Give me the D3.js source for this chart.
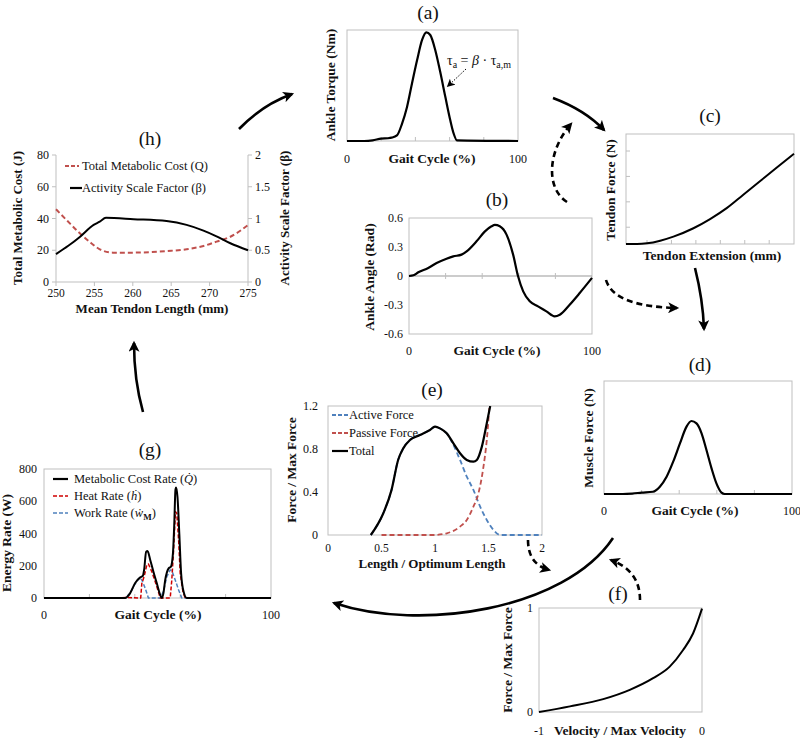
<!DOCTYPE html>
<html><head><meta charset="utf-8">
<script src="https://cdn.jsdelivr.net/npm/d3@7"></script>
<style>
body{margin:0;background:#fff}
svg text{font-family:"Liberation Serif","Times New Roman",serif;fill:#111}
</style>
</head><body>
<svg id="c" width="800" height="739"></svg>
<script>
// ---------------- DATA ----------------
// (a) ankle torque, normalised
const aGait   = [0,10,15,20,24,26.1,29.2,32.2,35.1,38,41,43.9,46.4,48.7,51.6,54.5,57.5,60.4,62.4,64.3,100];
const aTorque = [0,0,0.006,0.022,0.025,0.03,0.05,0.157,0.307,0.518,0.729,0.91,0.979,0.955,0.82,0.623,0.398,0.187,0.066,0.006,0];
// (b) ankle angle
const bGait  = [0,2.4,5.1,10.5,15.1,20.5,24.2,28.7,31.5,36.9,41.5,45.1,46.9,49.6,53.3,56.9,59.6,62.4,66,70.5,75.1,79.6,82.4,87.8,93.3,100];
const bAngle = [0,0.007,0.038,0.083,0.134,0.179,0.203,0.221,0.255,0.359,0.462,0.514,0.528,0.514,0.428,0.221,-0.003,-0.159,-0.262,-0.314,-0.366,-0.417,-0.4,-0.297,-0.176,-0.02];
const bYTicks = [-0.6,-0.3,0,0.3,0.6];
// (c) tendon force vs extension (arbitrary units)
const cExt   = [0,0.45,0.86,1.4,1.94,2.76,3.44,4.12,4.8,5.48,6.16,6.875];
const cForce = [0,0,0.026,0.13,0.29,0.62,0.98,1.41,1.94,2.47,3.0,3.55];
const cXTicks = [0.86,1.86,2.86,3.86,4.86,5.86];
const cYTicks = [0.66,1.66,2.66,3.66];
// (d) muscle force
const dGait  = [0,10,15,20,26,29.7,33.3,36.8,40.4,43.9,46.5,49.2,51.9,54.5,57.2,59.8,62.5,64.2,100];
const dForce = [0,0,0.004,0.012,0.02,0.065,0.153,0.286,0.448,0.596,0.646,0.625,0.537,0.389,0.227,0.094,0.012,0,0];
const gaitTicks = [20,40,60,80];
// (e) force-length
const eLenTotal = [0.4,0.516,0.594,0.656,0.703,0.766,0.859,0.953,1.0,1.047,1.109,1.172,1.234,1.297,1.359,1.391,1.438,1.484,1.516];
const eTotal    = [0,0.2,0.42,0.7,0.806,0.884,0.93,0.977,1.008,0.992,0.946,0.853,0.76,0.698,0.682,0.698,0.822,1.04,1.2];
const eLenActive = [0.4,0.516,0.594,0.656,0.703,0.766,0.859,0.953,1.0,1.047,1.109,1.172,1.234,1.297,1.359,1.422,1.484,1.547,1.609,2.0];
const eActive    = [0,0.2,0.42,0.7,0.806,0.884,0.93,0.977,1.008,0.99,0.946,0.837,0.698,0.543,0.419,0.264,0.14,0.047,0,0];
const eLenPassive = [0.5,0.98,1.11,1.234,1.297,1.359,1.406,1.453,1.484,1.509];
const ePassive    = [0,0,0.016,0.078,0.14,0.264,0.388,0.636,0.884,1.2];
const eXTicks = [0,0.5,1,1.5,2];
const eYTicks = [0,0.4,0.8,1.2];
// (f) force-velocity
const fVel   = [-1,-0.81,-0.606,-0.443,-0.3,-0.198,-0.116,-0.055,0];
const fForce = [0,0.054,0.124,0.213,0.325,0.436,0.596,0.755,0.994];
// (g) energy rates
const gMetX = [0,35.7,37.9,40.1,42.4,43.5,44.1,45,45.6,46.8,48.2,49.7,51.2,51.9,52.6,53.4,54.9,55.9,56.8,57.4,57.9,58.2,58.8,59.6,60.4,61.5,62.9,100];
const gMet  = [0,0,29,91,128,136,174,287,291,236,163,91,19,0,29,112,184,194,277,463,670,686,628,401,153,39,0,0];
const gHeatX = [0,30,37,42.6,43.1,44.1,45.3,46,47.5,49,50.4,51.2,55.6,56.3,57.1,57.9,58.5,59.3,60,61.2,62.2,100];
const gHeat  = [0,0,3,0,91,132,205,211,163,101,39,0,0,112,298,535,525,360,153,39,0,0];
const gWorkX = [0,35.7,37.9,40.1,42.1,43.1,44.6,46,51.2,52.6,54.1,55.6,56.3,57.8,59.3,60.7,100];
const gWork  = [0,0,29,87,126,112,60,0,0,39,132,174,170,112,50,0,0];
const gYTicks = [0,200,400,600,800];
// (h) metabolic cost & activity scale factor
const hLenQ  = [250,251.5,253.1,254.6,255.7,257.4,260,264.4,267,269.2,270.9,272.7,275];
const hCost  = [45.8,38.4,30.7,24.4,20.6,18.5,18.5,19.5,20.6,22.7,25.4,28.5,35.9];
const hLenB  = [250,251.6,253.1,254.9,255.7,256.5,260.1,264.4,267,269.2,270.9,272.7,275];
const hBeta  = [0.44,0.57,0.71,0.9,0.95,1.01,0.99,0.96,0.9,0.81,0.72,0.61,0.5];
const hXTicks = [250,255,260,265,270,275];
const hYLTicks = [0,20,40,60,80];
const hYRTicks = [0,0.5,1,1.5,2];

// ---------------- DRAWING ----------------
const svg = d3.select('#c');
const FRAME = '#bfbfbf';
const AX = 13.5, TK = 12;
const defs = svg.append('defs');
function marker(id, w, h){
  defs.append('marker').attr('id',id).attr('viewBox','0 0 10 10').attr('refX',8).attr('refY',5)
    .attr('markerWidth',w).attr('markerHeight',h).attr('markerUnits','userSpaceOnUse').attr('orient','auto')
    .append('path').attr('d','M0,0 L10,5 L0,10 L2.5,5 Z').attr('fill','#000');
}
marker('arr',12,11); marker('arrs',8,8);

function text(x,y,s,o={}){
  const t = svg.append('text').attr('x',x).attr('y',y).text(s)
    .attr('font-size',o.size||TK).attr('text-anchor',o.anchor||'middle')
    .attr('font-weight',o.bold?'bold':'normal');
  if(o.rot) t.attr('transform',`rotate(-90,${x},${y})`);
  if(o.dy) t.attr('dy',o.dy);
  return t;
}
function frame(xs,ys){
  svg.append('rect').attr('x',xs.range()[0]).attr('y',ys.range()[1])
    .attr('width',xs.range()[1]-xs.range()[0]).attr('height',ys.range()[0]-ys.range()[1])
    .attr('fill','none').attr('stroke',FRAME).attr('stroke-width',1);
}
function xLabels(xs,vals,y,fmt=String,size=TK){
  vals.forEach(v=>text(xs(v),y,fmt(v),{size}));
}
function yLabels(ys,vals,x,fmt=String,size=TK,anchor='end'){
  vals.forEach(v=>text(x,ys(v),fmt(v),{size,anchor,dy:'0.35em'}));
}
function xTicks(xs,vals,y,len){
  svg.append('g').selectAll('line').data(vals).join('line')
    .attr('x1',d=>xs(d)).attr('x2',d=>xs(d)).attr('y1',y).attr('y2',y+len)
    .attr('stroke',FRAME);
}
function yTicks(ys,vals,x,len){
  svg.append('g').selectAll('line').data(vals).join('line')
    .attr('y1',d=>ys(d)).attr('y2',d=>ys(d)).attr('x1',x).attr('x2',x+len)
    .attr('stroke',FRAME);
}
function curve(xs,ys,X,Y,o={}){
  const line = d3.line().x((d,i)=>xs(X[i])).y((d,i)=>ys(Y[i])).curve(o.curve||d3.curveMonotoneX);
  const p = svg.append('path').attr('d',line(Y)).attr('fill','none')
    .attr('stroke',o.color||'#000').attr('stroke-width',o.w||2).attr('stroke-linejoin','round');
  if(o.dash) p.attr('stroke-dasharray',o.dash);
  if(o.clip) p.attr('clip-path',`url(#${o.clip})`);
  return p;
}
function title(x,y,s){ text(x,y,s,{size:19.5}); }

// ---- (a) ----
{
  const xs = d3.scaleLinear([0,100],[347,518]);
  const ys = d3.scaleLinear([0,1],[141,30]);
  frame(xs,ys);
  xTicks(xs,gaitTicks,141,-4);
  curve(xs,ys,aGait,aTorque,{w:2.2});
  title(428,19,'(a)');
  text(335,85,'Ankle Torque (Nm)',{size:AX,bold:true,rot:true});
  xLabels(xs,[0,100],163);
  text(432,163,'Gait Cycle (%)',{size:AX,bold:true});
  const t = svg.append('text').attr('x',447).attr('y',65).attr('font-size',14).attr('text-anchor','start');
  t.append('tspan').text('τ');
  t.append('tspan').text('a').attr('font-size',10).attr('dy',3);
  t.append('tspan').text(' = ').attr('dy',-3);
  t.append('tspan').text('β').attr('font-style','italic');
  t.append('tspan').text(' · τ');
  t.append('tspan').text('a,m').attr('font-size',10).attr('dy',3);
  svg.append('path').attr('d','M466,69 L448,86').attr('stroke','#000').attr('stroke-width',1)
    .attr('stroke-dasharray','1.5,1.5').attr('marker-end','url(#arrs)');
}
// ---- (b) ----
{
  const xs = d3.scaleLinear([0,100],[409,592]);
  const ys = d3.scaleLinear([-0.6,0.6],[334,218]);
  frame(xs,ys);
  svg.append('line').attr('x1',xs(0)).attr('x2',xs(100)).attr('y1',ys(0)).attr('y2',ys(0)).attr('stroke','#999');
  xTicks(xs,gaitTicks,ys(0)-3,6);
  curve(xs,ys,bGait,bAngle,{w:2.2});
  title(497,206,'(b)');
  yLabels(ys,bYTicks,403);
  text(374,277,'Ankle Angle (Rad)',{size:AX,bold:true,rot:true});
  xLabels(xs,[0,100],355);
  text(497,355,'Gait Cycle (%)',{size:AX,bold:true});
}
// ---- (c) ----
{
  const xs = d3.scaleLinear([0,6.875],[626,794]);
  const ys = d3.scaleLinear([0,4.33],[244,134]);
  frame(xs,ys);
  xTicks(xs,cXTicks,244,-4);
  yTicks(ys,cYTicks,626,4);
  curve(xs,ys,cExt,cForce,{w:2});
  title(710,122,'(c)');
  text(615,190,'Tendon Force (N)',{size:AX,bold:true,rot:true});
  text(712,260,'Tendon Extension (mm)',{size:AX,bold:true});
}
// ---- (d) ----
{
  const xs = d3.scaleLinear([0,100],[604,792]);
  const ys = d3.scaleLinear([0,1],[494,381]);
  frame(xs,ys);
  xTicks(xs,gaitTicks,494,-4);
  curve(xs,ys,dGait,dForce,{w:2.2});
  title(700,371,'(d)');
  text(593,438,'Muscle Force (N)',{size:AX,bold:true,rot:true});
  xLabels(xs,[0,100],515);
  text(695,515,'Gait Cycle (%)',{size:AX,bold:true});
}
// ---- (e) ----
{
  const xs = d3.scaleLinear([0,2],[328,542]);
  const ys = d3.scaleLinear([0,1.2],[535,406]);
  frame(xs,ys);
  defs.append('clipPath').attr('id','ce').append('rect').attr('x',320).attr('y',406).attr('width',230).attr('height',140);
  curve(xs,ys,eLenActive,eActive,{color:'#4f81bd',dash:'5,3',w:1.8,clip:'ce'});
  curve(xs,ys,eLenPassive,ePassive,{color:'#c0504d',dash:'5,3',w:1.8,clip:'ce'});
  curve(xs,ys,eLenTotal,eTotal,{w:2.2,clip:'ce'});
  title(432,396,'(e)');
  yLabels(ys,eYTicks,318);
  xLabels(xs,eXTicks,552,String,11.5);
  text(296,470,'Force / Max Force',{size:AX,bold:true,rot:true});
  text(432,568,'Length / Optimum Length',{size:13,bold:true});
  const leg = [['Active Force','#4f81bd','5,3'],['Passive Force','#c0504d','5,3'],['Total','#000',null]];
  leg.forEach((l,i)=>{
    const y = 415+i*18;
    const ln = svg.append('line').attr('x1',332).attr('x2',348).attr('y1',y).attr('y2',y).attr('stroke',l[1]).attr('stroke-width',l[2]?1.8:2.2);
    if(l[2]) ln.attr('stroke-dasharray','4,2');
    text(349,y+4,l[0],{size:12.5,anchor:'start'});
  });
}
// ---- (f) ----
{
  const xs = d3.scaleLinear([-1,0],[539,702]);
  const ys = d3.scaleLinear([0,1],[712,608]);
  frame(xs,ys);
  curve(xs,ys,fVel,fForce,{w:2});
  title(618,600,'(f)');
  yLabels(ys,[0,1],533);
  xLabels(xs,[-1,0],735);
  text(512,660,'Force / Max Force',{size:AX,bold:true,rot:true});
  text(620,735,'Velocity / Max Velocity',{size:AX,bold:true});
}
// ---- (g) ----
{
  const xs = d3.scaleLinear([0,100],[44,271]);
  const ys = d3.scaleLinear([0,800],[598,469]);
  frame(xs,ys);
  xTicks(xs,gaitTicks,598,-4);
  curve(xs,ys,gWorkX,gWork,{color:'#4f81bd',dash:'4,2',w:1.5,curve:d3.curveLinear});
  curve(xs,ys,gHeatX,gHeat,{color:'#d00000',dash:'4,2',w:1.5,curve:d3.curveLinear});
  curve(xs,ys,gMetX,gMet,{w:2,curve:d3.curveMonotoneX});
  title(150,456,'(g)');
  yLabels(ys,gYTicks,37);
  xLabels(xs,[0,100],619);
  text(11,543,'Energy Rate (W)',{size:AX,bold:true,rot:true});
  text(158,619,'Gait Cycle (%)',{size:AX,bold:true});
  // legend
  const L = [[479,'#000',null],[496,'#d00000','4,2'],[513,'#4f81bd','4,2']];
  L.forEach(l=>{
    const ln = svg.append('line').attr('x1',53).attr('x2',68).attr('y1',l[0]).attr('y2',l[0]).attr('stroke',l[1]).attr('stroke-width',l[2]?1.6:2.2);
    if(l[2]) ln.attr('stroke-dasharray',l[2]);
  });
  let t = svg.append('text').attr('x',74).attr('y',483).attr('font-size',12.5);
  t.append('tspan').text('Metabolic Cost Rate (');
  t.append('tspan').text('Q\u0307').attr('font-style','italic');
  t.append('tspan').text(')');
  t = svg.append('text').attr('x',74).attr('y',500).attr('font-size',12.5);
  t.append('tspan').text('Heat Rate (');
  t.append('tspan').text('\u1E23').attr('font-style','italic');
  t.append('tspan').text(')');
  t = svg.append('text').attr('x',74).attr('y',517).attr('font-size',12.5);
  t.append('tspan').text('Work Rate (');
  t.append('tspan').text('\u1E87').attr('font-style','italic');
  t.append('tspan').text('M').attr('font-weight','bold').attr('font-size',9).attr('dy',3);
  t.append('tspan').text(')').attr('dy',-3);
}
// ---- (h) ----
{
  const xs = d3.scaleLinear([250,275],[56,248]);
  const yl = d3.scaleLinear([0,80],[282,155]);
  const yr = d3.scaleLinear([0,2],[282,155]);
  svg.append('path').attr('d',`M56,155 V282 H248 V155`).attr('fill','none').attr('stroke',FRAME);
  yTicks(yl,hYLTicks,56,-4);
  yTicks(yr,hYRTicks,248,4);
  xTicks(xs,hXTicks,282,4);
  curve(xs,yl,hLenQ,hCost,{color:'#c0504d',dash:'5,3',w:2});
  curve(xs,yr,hLenB,hBeta,{w:2});
  title(150,145,'(h)');
  yLabels(yl,hYLTicks,49);
  yLabels(yr,hYRTicks,255,String,TK,'start');
  xLabels(xs,hXTicks,297,String,11.5);
  text(22,218,'Total Metabolic Cost (J)',{size:13,bold:true,rot:true});
  text(289,218,'Activity Scale Factor (β)',{size:13,bold:true,rot:true});
  text(152,313,'Mean Tendon Length (mm)',{size:13,bold:true});
  svg.append('line').attr('x1',65).attr('x2',79).attr('y1',166).attr('y2',166).attr('stroke','#c0504d').attr('stroke-width',2).attr('stroke-dasharray','4,2');
  text(82,170,'Total Metabolic Cost (Q)',{size:12.5,anchor:'start'});
  svg.append('line').attr('x1',70).attr('x2',82).attr('y1',188).attr('y2',188).attr('stroke','#000').attr('stroke-width',2.2);
  text(82,192,'Activity Scale Factor (β)',{size:12.5,anchor:'start'});
}
// ---- connecting arrows ----
function arrow(d,dash,w=2.6){
  const p = svg.append('path').attr('d',d).attr('fill','none').attr('stroke','#000').attr('stroke-width',w).attr('marker-end','url(#arr)');
  if(dash) p.attr('stroke-dasharray',dash);
}
arrow('M239,129 Q262,105 292,94');
arrow('M553,98 Q585,110 604,130');
arrow('M567,202 C545,188 548,150 571,124','6,4');
arrow('M606,280 C612,300 640,307 677,308','6,4');
arrow('M695,268 Q703,300 704,329');
arrow('M143,412 Q134,380 134,343');
arrow('M613,538 C565,610 420,632 334,603');
arrow('M528,540 C528,556 535,566 549,570','6,4');
arrow('M640,600 C640,580 630,567 611,560','6,4');
</script>
</body></html>
